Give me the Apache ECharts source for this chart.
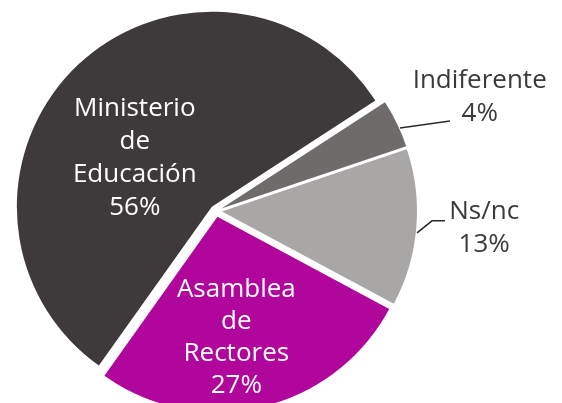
<!DOCTYPE html>
<html>
<head>
<meta charset="utf-8">
<script src="https://cdn.jsdelivr.net/npm/echarts@6/dist/echarts.min.js"></script>
<style>
html,body{margin:0;padding:0;background:#fff;}
#chart{width:562px;height:403px;}
</style>
</head>
<body>
<div id="chart"></div>
<script>
const categories = ['Indiferente', 'Ns/nc', 'Asamblea de Rectores', 'Ministerio de Educación'];
const displayLines = [['Indiferente'], ['Ns/nc'], ['Asamblea', 'de', 'Rectores'], ['Ministerio', 'de', 'Educación']];
const values = [4, 13, 27, 56];
const colors = ['#6f6b6b', '#a9a6a6', '#b0069b', '#3e393a'];
const labelInside = [false, false, true, true];

// label style tweaks (layout only): padding [top,right,bottom,left]
const labelPadding = [[0, 0, 50, 0], [0, 0, 0, 0], [0, 0, 0, 0], [48, 15, 0, 0]];
const labelShift = [[0, 0], [0, 0], [-4, 23], [0, 0]];
const labelLineHeight = [33, 33, 32, 33];
const lineLen = [3, 8, 0, 0];
const lineLen2 = [47, 20, 0, 0];
const lineGap = [-34, 5, 0, 0];
// leader-line bends relative to the library's anchor point on the slice edge
const leaderBends = [
  [[3, 4.5], [28, 1], [53, -2.5]],
  [[0.7, 5], [15.7, -7], [28.7, -7]],
  null,
  null
];

const chart = echarts.init(document.getElementById('chart'), null, {renderer: 'canvas'});
const data = categories.map((c, i) => ({
  name: c,
  value: values[i],
  selected: true,
  itemStyle: {color: colors[i]},
  label: {
    position: labelInside[i] ? 'inside' : 'outside',
    color: labelInside[i] ? '#ffffff' : '#3a3a3a',
    padding: labelPadding[i],
    distanceToLabelLine: lineGap[i],
    rich: {
      c: {
        align: 'center',
        color: labelInside[i] ? '#ffffff' : '#3a3a3a',
        fontFamily: 'Open Sans',
        fontSize: 26,
        lineHeight: labelLineHeight[i]
      }
    }
  },
  labelLine: {show: !labelInside[i], length: lineLen[i], length2: lineLen2[i]}
}));

chart.setOption({
  animation: false,
  series: [{
    type: 'pie',
    center: [216, 211],
    radius: 195,
    startAngle: 33,
    clockwise: true,
    selectedMode: 'multiple',
    selectedOffset: 6,
    avoidLabelOverlap: false,
    data: data,
    emphasis: {disabled: true},
    label: {
      fontFamily: 'Open Sans',
      fontSize: 26,
      lineHeight: 33,
      formatter: p => displayLines[p.dataIndex].concat([values[p.dataIndex] + '%'])
        .map(s => '{c|' + s + '}').join('\n')
    },
    labelLine: {
      lineStyle: {color: '#2a2a2a', width: 1.5}
    },
    labelLayout: p => {
      const i = p.dataIndex;
      const out = {dx: labelShift[i][0], dy: labelShift[i][1]};
      const bends = leaderBends[i];
      if (bends && p.labelLinePoints && p.labelLinePoints.length) {
        const a = p.labelLinePoints[0];
        out.labelLinePoints = bends.map(b => [a[0] + b[0], a[1] + b[1]]);
      }
      return out;
    }
  }]
});
</script>
</body>
</html>
